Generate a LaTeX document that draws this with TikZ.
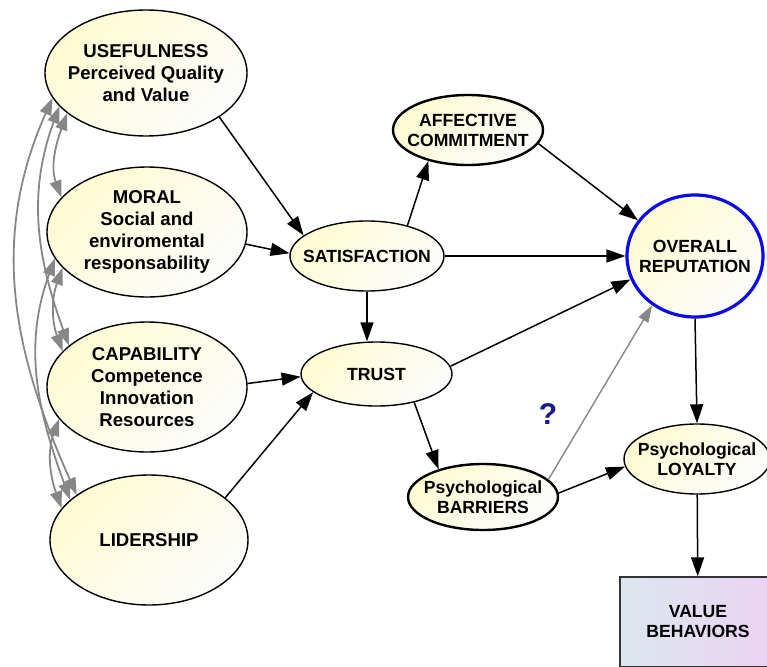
\documentclass[tikz,border=0pt]{standalone}
\usepackage{fontspec}
\setmainfont{Liberation Sans}
\usetikzlibrary{arrows.meta,shapes.geometric}
\definecolor{nodeyellow}{RGB}{255,251,210}
\definecolor{nodewhite}{RGB}{252,252,252}
\definecolor{corrgray}{RGB}{135,135,135}
\definecolor{repblue}{RGB}{10,10,235}
\definecolor{qnavy}{RGB}{25,25,140}
\definecolor{valblue}{RGB}{220,231,238}
\definecolor{valpurple}{RGB}{236,210,244}
\tikzset{
  latent/.style={ellipse, draw=black, line width=1.4pt, top color=nodeyellow, bottom color=nodewhite,
                 shading angle=45, inner sep=-20pt, align=center, font=\fontsize{17.6}{20}\selectfont\bfseries},
  driver/.style={latent, minimum width=200pt, minimum height=130pt, font=\fontsize{18.6}{22}\selectfont\bfseries},
  heavy/.style={line width=2.4pt},
  valbox/.style={rectangle, draw=black!80, line width=1.4pt, left color=valblue, right color=valpurple,
                 minimum width=156pt, minimum height=90pt, align=center, font=\fontsize{17.6}{20}\selectfont\bfseries},
  link/.style={-{Triangle[length=19pt,width=13pt]}, line width=1.5pt},
  glink/.style={-{Triangle[length=17pt,width=11pt]}, line width=1.4pt, draw=corrgray},
  corr/.style={{Triangle[length=17pt,width=12pt]}-{Triangle[length=17pt,width=12pt]}, line width=1.8pt,
               draw=corrgray, out=250, in=110},
}
\begin{document}
\begin{tikzpicture}[x=1pt, y=1pt]
  \useasboundingbox (0,0) rectangle (767,-666);
  % drivers
  \node[driver, minimum width=202pt, minimum height=126pt] (use) at (146,-73) {USEFULNESS\\Perceived Quality\\and Value};
  \node[driver] (mor) at (147,-232) {MORAL\\Social and\\enviromental\\responsability};
  \node[driver] (cap) at (147,-387) {CAPABILITY\\Competence\\Innovation\\Resources};
  \node[driver, minimum width=198pt] (lid) at (149,-540) {LIDERSHIP};
  % mediators and outcomes
  \node[latent, minimum width=154pt, minimum height=70pt] (sat) at (367,-256) {SATISFACTION};
  \node[latent, heavy, minimum width=150pt, minimum height=70pt] (aff) at (468,-130) {AFFECTIVE\\COMMITMENT};
  \node[latent, draw=repblue, line width=3.2pt, minimum width=136pt, minimum height=122pt] (rep) at (695,-256) {OVERALL\\REPUTATION};
  \node[latent, minimum width=151pt, minimum height=64pt] (tru) at (376.5,-374) {TRUST};
  \node[latent, heavy, minimum width=150pt, minimum height=66pt] (bar) at (483,-497) {Psychological\\BARRIERS};
  \node[latent, minimum width=146pt, minimum height=70pt] (loy) at (697,-459) {Psychological\\LOYALTY};
  \node[valbox] (val) at (698,-622) {VALUE\\BEHAVIORS};
  \node[text=qnavy, font=\fontsize{30}{32}\selectfont\bfseries] (qm) at (548,-414) {?};

  % paths
  \draw[link] (use.-31) -- (sat.162);
  \draw[link] (mor.-7) -- (sat.178);
  \draw[link] (sat.37) -- (aff.-142);
  \draw[link] (aff.-11) -- (rep.148);
  \draw[link] (sat) -- (rep);
  \draw[link] (sat.south) -- (sat.south |- tru.north);
  \draw[link] (cap.2) -- (tru.182);
  \draw[link] (lid.29) -- (tru.-164);
  \draw[link] (tru.6) -- (rep.-160);
  \draw[link] (tru.-37) -- (bar.148);
  \draw[glink] (bar.15) -- (rep.-131);
  \draw[link] (bar.3) -- (loy.-174);
  \draw[link] (rep.south) -- (loy.north);
  \draw[link] (loy) -- (val);

  % correlations between drivers
  \draw[corr, out=246, in=114] (use.195) to (lid.148);
  \draw[corr] (use.201) to (cap.152);
  \draw[corr] (use.207) to (mor.158);
  \draw[corr] (mor.196) to (lid.153);
  \draw[corr] (mor.203) to (cap.157);
  \draw[corr] (cap.200) to (lid.160);
\end{tikzpicture}
\end{document}
